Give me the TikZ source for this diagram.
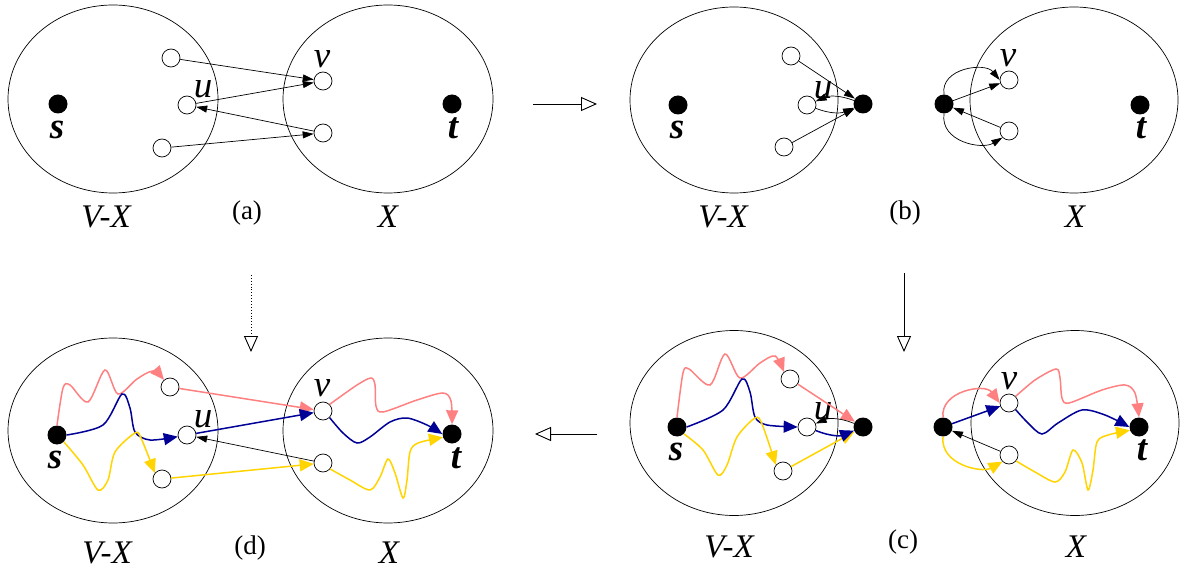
\documentclass[tikz,border=0pt]{standalone}
\usepackage{fontspec}
\setmainfont{Liberation Serif}[ItalicFont={Liberation Serif Italic},BoldItalicFont={Liberation Serif Bold Italic}]
\usetikzlibrary{arrows.meta}
\definecolor{pinkc}{RGB}{255,128,128}
\definecolor{bluec}{RGB}{0,0,150}
\definecolor{yelc}{RGB}{255,212,0}
\begin{document}
\begin{tikzpicture}[x=1pt,y=-1pt,
  region/.style={line width=0.7pt},
  wn/.style={circle,draw,fill=white,minimum size=18pt,inner sep=0pt,line width=0.7pt},
  bn/.style={circle,fill=black,minimum size=19pt,inner sep=0pt},
  nl/.style={font=\fontsize{37}{37}\selectfont\itshape,inner sep=0pt},
  tl/.style={font=\fontsize{37}{37}\selectfont\bfseries\itshape,inner sep=0pt},
  setl/.style={font=\fontsize{33}{33}\selectfont\itshape,inner sep=0pt},
  capl/.style={font=\fontsize{27}{27}\selectfont,inner sep=0pt},
  ed/.style={line width=0.7pt,-{Triangle[length=11pt,width=7pt]}},
  ced/.style={line width=1.5pt,-{Triangle[length=14pt,width=12pt]}},
  pk/.style={ced,color=pinkc},
  bl/.style={ced,color=bluec},
  yl/.style={ced,color=yelc},
  big/.style={line width=0.9pt,-{Triangle[open,length=16pt,width=14pt]}}]
\useasboundingbox (0,0) rectangle (1183,569);

% ---------------- panel (a)
\draw[region] (113,99) ellipse [x radius=105pt,y radius=94pt];
\draw[region] (388,99) ellipse [x radius=105pt,y radius=94pt];
\node[bn] (aS) at (58,104) {};
\node[bn] (aT) at (452,104) {};
\node[wn] (aW1) at (171,58) {};
\node[wn] (aU) at (187,105) {};
\node[wn] (aW3) at (162,148) {};
\node[wn] (aV) at (323,81) {};
\node[wn] (aW4) at (323,133) {};
\node[tl] (aSl) at (57,130) {s};
\node[tl] (aTl) at (453,128) {t};
\node[nl] (aUl) at (203,89) {u};
\node[nl] (aVl) at (322,59) {v};
\node[setl] (aL1) at (106,217) {V-X};
\node[capl] (aC) at (247,213) {(a)};
\node[setl] (aL2) at (388,217) {X};
\draw[ed] (aW1) -- (aV);
\draw[ed] (aU) -- (aV);
\draw[ed] (aW4) -- (aU);
\draw[ed] (aW3) -- (aW4);

% ---------------- panel (b)
\draw[region] (734,100) ellipse [x radius=104pt,y radius=93pt];
\draw[region] (1074,100) ellipse [x radius=104pt,y radius=93pt];
\node[bn] (bS) at (678,105) {};
\node[wn] (bW1) at (791,56) {};
\node[wn] (bU) at (807,105) {};
\node[wn] (bW3) at (784,147) {};
\node[bn] (bX) at (863,104) {};
\node[bn] (bY) at (944,104) {};
\node[wn] (bV) at (1009,80) {};
\node[wn] (bW4) at (1009,131) {};
\node[bn] (bT) at (1140,105) {};
\node[tl] (bSl) at (677,130) {s};
\node[tl] (bTl) at (1141,128) {t};
\node[nl] (bUl) at (823,90) {u};
\node[nl] (bVl) at (1008,58) {v};
\node[setl] (bL1) at (723,217) {V-X};
\node[capl] (bC) at (905,213) {(b)};
\node[setl] (bL2) at (1075,217) {X};
\draw[ed] (bW1) -- (bX);
\draw[ed] (bU) to[bend right=22] (bX);
\draw[ed] (bX) to[bend right=22] (bU);
\draw[ed] (bW3) -- (bX);
\draw[ed] (bY) -- (bV);
\draw[ed] (bY.north) .. controls (940,68) and (985,62) .. (bV.west);
\draw[ed] (bW4) -- (bY);
\draw[ed] (bY.south) .. controls (940,142) and (982,150) .. (bW4.south west);

% ---------------- panel (c)
\draw[region] (734,423) ellipse [x radius=104pt,y radius=92.5pt];
\draw[region] (1075,423) ellipse [x radius=104pt,y radius=92.5pt];
\node[bn] (cS) at (677,427) {};
\node[wn] (cW1) at (790,379) {};
\node[wn] (cU) at (807,427) {};
\node[wn] (cW3) at (783,471) {};
\node[bn] (cX) at (863,427) {};
\node[bn] (cY) at (943,427) {};
\node[wn] (cV) at (1009,403) {};
\node[wn] (cW4) at (1009,455) {};
\node[bn] (cT) at (1139,427) {};
\node[tl] (cSl) at (676,452) {s};
\node[tl] (cTl) at (1142,450) {t};
\node[nl] (cUl) at (823,411) {u};
\node[nl] (cVl) at (1009,381) {v};
\node[setl] (cL1) at (729,547) {V-X};
\node[capl] (cC) at (903,542) {(c)};
\node[setl] (cL2) at (1076,547) {X};
\draw[pk] plot[smooth] coordinates {(cS.north) (683,373) (689,369) (710,385) (725,354) (740,378) (760,363) (775,356) (cW1.130)};
\draw[bl] plot[smooth] coordinates {(cS.east) (723,410) (742,379) (750,392) (755,417) (767,425) (cU.west)};
\draw[yl] plot[smooth] coordinates {(cS.south east) (703,450) (718,475) (727,465) (737,437) (755,418) (762,424) (cW3.140)};
\draw[pk] (cW1) -- (cX);
\draw[yl] (cW3) -- (cX);
\draw[bl] (cU) to[bend right=22] (cX);
\draw[ed] (cX) to[bend right=22] (cU);
\draw[bl] (cY) -- (cV);
\draw[pk] (cY.north) .. controls (940,391) and (985,383) .. (cV.west);
\draw[ed] (cW4) -- (cY);
\draw[yl] (cY.south) .. controls (940,465) and (982,473) .. (cW4.south west);
\draw[pk] plot[smooth] coordinates {(cV.45) (1035,380) (1056,369) (1060,378) (1062,398) (1069,403) (1102,390) (1125,385) (1135,393) (cT.north)};
\draw[bl] plot[smooth] coordinates {(cV.-45) (1028,423) (1042,434) (1058,423) (1082,410) (1105,415) (cT.west)};
\draw[yl] plot[smooth] coordinates {(cW4.-40) (1035,472) (1055,482) (1065,472) (1073,450) (1082,463) (1088,490) (1093,470) (1097,442) (1108,435) (cT.200)};

% ---------------- panel (d)
\draw[region] (113,430.5) ellipse [x radius=105pt,y radius=92.5pt];
\draw[region] (388,430.5) ellipse [x radius=105pt,y radius=92.5pt];
\node[bn] (dS) at (57,435) {};
\node[wn] (dW1) at (170,387) {};
\node[wn] (dU) at (187,435) {};
\node[wn] (dW3) at (162,479) {};
\node[wn] (dV) at (323,411) {};
\node[wn] (dW4) at (323,463) {};
\node[bn] (dT) at (452,434) {};
\node[tl] (dSl) at (55,460) {s};
\node[tl] (dTl) at (456,458) {t};
\node[nl] (dUl) at (203,419) {u};
\node[nl] (dVl) at (322,388) {v};
\node[setl] (dL1) at (107,553) {V-X};
\node[capl] (dC) at (250,548) {(d)};
\node[setl] (dL2) at (389,553) {X};
\draw[pk] plot[smooth] coordinates {(dS.north) (63,388) (70,385) (88,402) (105,370) (118,394) (137,379) (153,371) (dW1.130)};
\draw[bl] plot[smooth] coordinates {(dS.east) (103,425) (122,394) (130,408) (135,432) (150,440) (dU.190)};
\draw[yl] plot[smooth] coordinates {(dS.south east) (83,465) (98,490) (108,480) (115,452) (135,433) (141,438) (dW3.140)};
\draw[pk] (dW1) -- (dV);
\draw[bl] (dU) -- (dV);
\draw[yl] (dW3) -- (dW4);
\draw[ed] (dW4) -- (dU);
\draw[pk] plot[smooth] coordinates {(dV.45) (357,385) (371,378) (375,385) (376,406) (383,412) (417,400) (443,393) (451,401) (dT.north)};
\draw[bl] plot[smooth] coordinates {(dV.-45) (343,433) (357,443) (370,437) (390,422) (407,418) (427,425) (dT.west)};
\draw[yl] plot[smooth] coordinates {(dW4.-40) (350,480) (370,490) (380,477) (388,459) (395,473) (403,498) (407,480) (410,452) (418,443) (dT.200)};

% ---------------- transition arrows
\coordinate (ab1) at (533,104);
\coordinate (ab2) at (597,104);
\draw[big] (ab1) -- (ab2);
\coordinate (bc1) at (904,273);
\coordinate (bc2) at (904,352);
\draw[big] (bc1) -- (bc2);
\coordinate (cd1) at (597,434);
\coordinate (cd2) at (535,434);
\draw[big] (cd1) -- (cd2);
\coordinate (ad1) at (251,275);
\coordinate (ad2) at (251,352);
\draw[big,dotted] (ad1) -- (ad2);
\end{tikzpicture}
\end{document}
